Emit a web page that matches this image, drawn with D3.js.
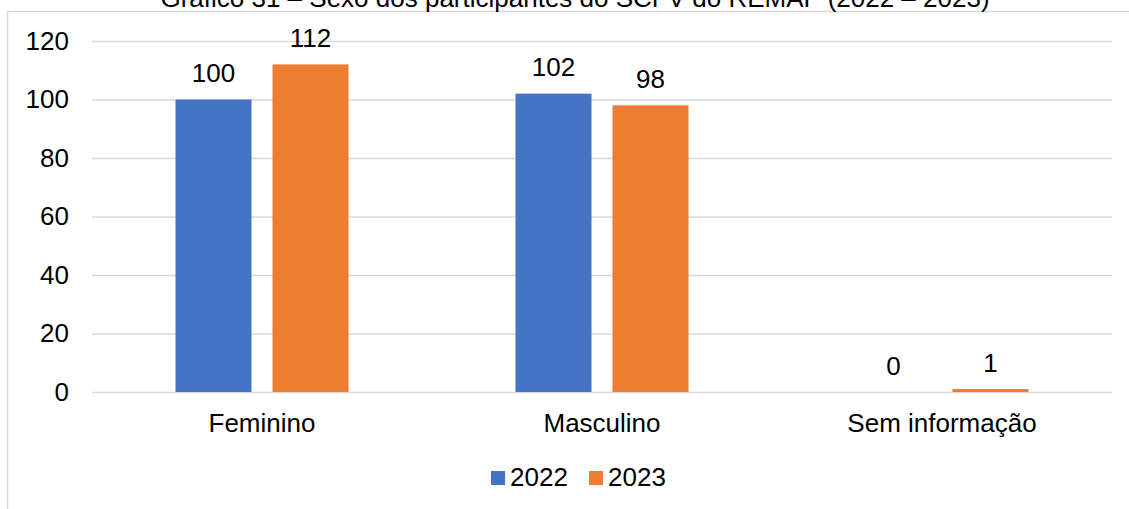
<!DOCTYPE html>
<html>
<head>
<meta charset="utf-8">
<script src="https://cdn.jsdelivr.net/npm/d3@7"></script>
<style>
  html, body { margin: 0; padding: 0; background: #fff; }
  svg { display: block; font-family: "Liberation Sans", Arial, sans-serif; }
</style>
</head>
<body>
<svg id="chart" width="1129" height="509"></svg>
<script>
// Participants by sex, 2022 vs 2023
const categories = ["Feminino", "Masculino", "Sem informação"];
const seriesNames = ["2022", "2023"];
const values2022 = [100, 102, 0];
const values2023 = [112, 98, 1];
const yTicks = [0, 20, 40, 60, 80, 100, 120];
const colors = ["#4472C4", "#ED7D31"];
const titleText = "Gráfico 31 – Sexo dos participantes do SCFV do REMAP (2022 – 2023)";

const FS = 26;
const svg = d3.select("#chart");
const W = 1129, H = 509;
const margin = { left: 92, right: 17, top: 41, bottom: 117 };

const series = [values2022, values2023];

// Outer frame (left and top edges)
svg.append("path")
  .attr("d", `M7.5,${H} L7.5,11.5 L${W},11.5`)
  .attr("fill", "none")
  .attr("stroke", "#d9d9d9")
  .attr("stroke-width", 1.5);

// Title (its top runs past the page edge)
svg.append("text")
  .attr("x", 575)
  .attr("y", 7)
  .attr("text-anchor", "middle")
  .attr("font-size", FS)
  .attr("fill", "#000")
  .text(titleText);

const x0 = d3.scaleBand()
  .domain(categories)
  .range([margin.left, W - margin.right])
  .paddingInner(0)
  .paddingOuter(0);

const y = d3.scaleLinear()
  .domain([0, 120])
  .range([H - margin.bottom, margin.top]);

// Inner band for the two series: bar width 76, gap 21 inside a 340 band
const groupWidth = 173;
const x1 = d3.scaleBand()
  .domain(seriesNames)
  .range([0, groupWidth])
  .paddingInner(21 / 97)
  .paddingOuter(0);

// Gridlines and value axis labels
const yAxis = d3.axisLeft(y)
  .tickValues(yTicks)
  .tickSize(-(W - margin.left - margin.right))
  .tickPadding(23)
  .tickFormat(d3.format("d"));

const gAxis = svg.append("g")
  .attr("transform", `translate(${margin.left},0)`)
  .call(yAxis);
gAxis.select(".domain").remove();
gAxis.selectAll(".tick line")
  .attr("stroke", "#d9d9d9")
  .attr("stroke-width", 1.5);
gAxis.selectAll(".tick text")
  .attr("font-size", FS)
  .attr("fill", "#000")
  .attr("font-family", "Liberation Sans, Arial, sans-serif");

// Bars with value labels
const groups = svg.append("g").selectAll("g")
  .data(categories)
  .join("g")
  .attr("transform", c => `translate(${x0(c) + (x0.bandwidth() - groupWidth) / 2},0)`);

groups.each(function (c, ci) {
  const g = d3.select(this);
  seriesNames.forEach((s, si) => {
    const v = series[si][ci];
    g.append("rect")
      .attr("x", x1(s))
      .attr("y", y(v))
      .attr("width", x1.bandwidth())
      .attr("height", y(0) - y(v))
      .attr("fill", colors[si]);
    g.append("text")
      .attr("x", x1(s) + x1.bandwidth() / 2)
      .attr("y", y(v) - 17.5)
      .attr("text-anchor", "middle")
      .attr("font-size", FS)
      .attr("fill", "#000")
      .text(v);
  });
});

// Category labels
svg.append("g").selectAll("text")
  .data(categories)
  .join("text")
  .attr("x", c => x0(c) + x0.bandwidth() / 2)
  .attr("y", 432)
  .attr("text-anchor", "middle")
  .attr("font-size", FS)
  .attr("fill", "#000")
  .text(c => c);

// Legend
const legendItems = [
  { name: seriesNames[0], color: colors[0], x: 491 },
  { name: seriesNames[1], color: colors[1], x: 589 }
];
const lg = svg.append("g");
legendItems.forEach(it => {
  lg.append("rect")
    .attr("x", it.x)
    .attr("y", 471)
    .attr("width", 14)
    .attr("height", 14)
    .attr("fill", it.color);
  lg.append("text")
    .attr("x", it.x + 19)
    .attr("y", 486)
    .attr("font-size", FS)
    .attr("fill", "#000")
    .text(it.name);
});
</script>
</body>
</html>
